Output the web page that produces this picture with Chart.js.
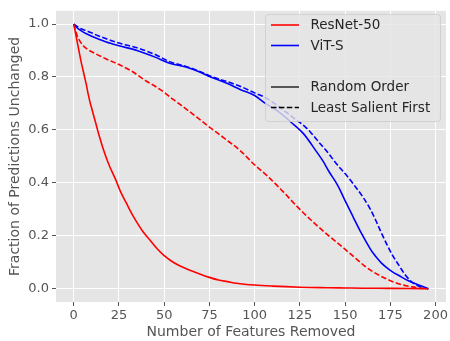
<!DOCTYPE html>
<html>
<head>
<meta charset="utf-8">
<script src="https://cdn.jsdelivr.net/npm/chart.js@4/dist/chart.umd.min.js"></script>
<style>
  html, body { margin: 0; padding: 0; background: #ffffff; }
  #wrap { width: 450px; height: 341px; position: relative; }
</style>
</head>
<body>
<div id="wrap"><canvas id="c" width="450" height="341"></canvas></div>
<script>
// ---- data ----
const xTicks = [0, 25, 50, 75, 100, 125, 150, 175, 200];
const yTicks = [0.0, 0.2, 0.4, 0.6, 0.8, 1.0];

const seriesNames = ['ResNet-50', 'ViT-S'];
const styleNames = ['Random Order', 'Least Salient First'];

const resnetRandomX = [0, 1, 2, 3, 4, 5, 6, 7, 8, 9, 10, 12, 14, 16, 18, 20, 23, 26, 29, 32, 35, 38, 42, 46, 50, 55, 60, 65, 70, 75, 80, 85, 90, 100, 110, 125, 140, 150, 160, 175, 185, 196];
const resnetRandomY = [1.0, 0.965, 0.93, 0.895, 0.86, 0.83, 0.80, 0.77, 0.735, 0.705, 0.68, 0.63, 0.58, 0.535, 0.495, 0.46, 0.415, 0.365, 0.325, 0.285, 0.25, 0.218, 0.185, 0.152, 0.125, 0.10, 0.082, 0.068, 0.055, 0.043, 0.033, 0.027, 0.021, 0.014, 0.010, 0.006, 0.004, 0.003, 0.002, 0.0015, 0.001, 0.0];

const resnetLSFX = [0, 1, 2, 3, 5, 8, 12, 18, 25, 32, 40, 45, 50, 55, 61, 68, 75, 83, 92, 100, 108, 116, 125, 133, 141, 149, 155, 161, 167, 172, 177, 182, 187, 191, 196];
const resnetLSFY = [1.0, 0.975, 0.955, 0.94, 0.92, 0.903, 0.888, 0.868, 0.847, 0.822, 0.785, 0.765, 0.742, 0.715, 0.685, 0.648, 0.611, 0.57, 0.522, 0.468, 0.42, 0.365, 0.30, 0.248, 0.20, 0.155, 0.12, 0.085, 0.058, 0.04, 0.025, 0.014, 0.007, 0.003, 0.0];

const vitRandomX = [0, 2, 4, 7, 12, 18, 25, 35, 45, 53, 62, 70, 75, 85, 92, 100, 106, 113, 120, 127, 134, 138, 141, 146, 150, 154.5, 159, 164, 166, 168, 170, 173, 176, 180, 185, 190, 196];
const vitRandomY = [1.0, 0.985, 0.975, 0.963, 0.948, 0.932, 0.918, 0.90, 0.875, 0.852, 0.838, 0.818, 0.802, 0.775, 0.753, 0.73, 0.70, 0.67, 0.63, 0.586, 0.52, 0.48, 0.444, 0.39, 0.333, 0.271, 0.21, 0.15, 0.13, 0.113, 0.098, 0.08, 0.065, 0.049, 0.03, 0.016, 0.0];

const vitLSFX = [0, 2, 4, 7, 12, 18, 25, 35, 45, 53, 62, 70, 75, 85, 92, 100, 106, 113, 121, 129, 136, 141, 145, 150, 155, 160, 164, 167, 170, 173, 176, 180, 183, 186, 190, 193, 196];
const vitLSFY = [1.0, 0.99, 0.982, 0.975, 0.96, 0.944, 0.928, 0.91, 0.885, 0.858, 0.84, 0.82, 0.805, 0.782, 0.765, 0.74, 0.722, 0.69, 0.648, 0.605, 0.55, 0.51, 0.474, 0.435, 0.392, 0.345, 0.300, 0.258, 0.212, 0.169, 0.129, 0.086, 0.055, 0.031, 0.012, 0.004, 0.0];

const pts = (xs, ys) => xs.map((x, i) => ({ x: x, y: ys[i] }));

const RED = '#ff0000';
const BLUE = '#0000ff';
const DASH = [5.5, 2.4];

const bgPlugin = {
  id: 'plotBg',
  beforeDraw(chart) {
    const { ctx, chartArea: a } = chart;
    ctx.save();
    ctx.fillStyle = '#e5e5e5';
    ctx.fillRect(a.left, a.top, a.right - a.left, a.bottom - a.top);
    ctx.restore();
  }
};

const legendPlugin = {
  id: 'customLegend',
  afterDatasetsDraw(chart) {
    const { ctx } = chart;
    const bx = 265, by = 14, bw = 175, bh = 107;
    ctx.save();
    ctx.globalAlpha = 0.8;
    ctx.fillStyle = '#e5e5e5';
    ctx.strokeStyle = '#cccccc';
    ctx.lineWidth = 1;
    ctx.beginPath();
    ctx.roundRect(bx + 0.5, by + 0.5, bw, bh, 3);
    ctx.fill();
    ctx.stroke();
    ctx.globalAlpha = 1;
    const rows = [
      { label: seriesNames[0], color: RED, dash: [] , y: 25 },
      { label: seriesNames[1], color: BLUE, dash: [], y: 45.5 },
      { label: styleNames[0], color: '#333333', dash: [], y: 87 },
      { label: styleNames[1], color: '#000000', dash: DASH, y: 107.5 }
    ];
    ctx.font = '13.5px "DejaVu Sans"';
    ctx.textBaseline = 'middle';
    ctx.textAlign = 'left';
    rows.forEach(r => {
      ctx.strokeStyle = r.color;
      ctx.lineWidth = 1.6;
      ctx.setLineDash(r.dash);
      ctx.beginPath();
      ctx.moveTo(271, r.y);
      ctx.lineTo(299, r.y);
      ctx.stroke();
      ctx.setLineDash([]);
      ctx.fillStyle = '#262626';
      ctx.fillText(r.label, 310.5, r.y + 0.5);
    });
    ctx.restore();
  }
};

const common = { pointRadius: 0, borderWidth: 1.6, fill: false, cubicInterpolationMode: 'monotone' };

new Chart(document.getElementById('c'), {
  type: 'line',
  data: {
    datasets: [
      Object.assign({ label: 'ResNet-50 Random Order', data: pts(resnetRandomX, resnetRandomY), borderColor: RED }, common),
      Object.assign({ label: 'ViT-S Random Order', data: pts(vitRandomX, vitRandomY), borderColor: BLUE }, common),
      Object.assign({ label: 'ResNet-50 Least Salient First', data: pts(resnetLSFX, resnetLSFY), borderColor: RED, borderDash: DASH }, common),
      Object.assign({ label: 'ViT-S Least Salient First', data: pts(vitLSFX, vitLSFY), borderColor: BLUE, borderDash: DASH }, common)
    ]
  },
  options: {
    responsive: false,
    animation: false,
    devicePixelRatio: 1,
    layout: { padding: { top: 7, right: 3, left: 0, bottom: 0 } },
    plugins: { legend: { display: false }, tooltip: { enabled: false } },
    scales: {
      x: {
        type: 'linear',
        min: -9.8,
        max: 205.8,
        afterFit: s => { s.height = 39; },
        afterBuildTicks: s => { s.ticks = xTicks.map(v => ({ value: v })); },
        grid: { color: '#ffffff', lineWidth: 1, tickColor: '#555555', tickLength: 4, drawTicks: true },
        border: { display: false },
        ticks: { color: '#555555', font: { family: '"DejaVu Sans"', size: 13 }, padding: 2, maxRotation: 0, autoSkip: false, callback: v => String(v) },
        title: { display: true, text: 'Number of Features Removed', color: '#555555', font: { family: '"DejaVu Sans"', size: 14 }, padding: { top: 0, bottom: 0 } }
      },
      y: {
        type: 'linear',
        min: -0.05,
        max: 1.05,
        afterFit: s => { s.width = 56; },
        afterBuildTicks: s => { s.ticks = yTicks.map(v => ({ value: v })); },
        grid: { color: '#ffffff', lineWidth: 1, tickColor: '#555555', tickLength: 4, drawTicks: true },
        border: { display: false },
        ticks: { color: '#555555', font: { family: '"DejaVu Sans"', size: 13 }, padding: 3, autoSkip: false, callback: v => Number(v).toFixed(1) },
        title: { display: true, text: 'Fraction of Predictions Unchanged', color: '#555555', font: { family: '"DejaVu Sans"', size: 14 }, padding: { top: 7, bottom: 0 } }
      }
    }
  },
  plugins: [bgPlugin, legendPlugin]
});
</script>
</body>
</html>
